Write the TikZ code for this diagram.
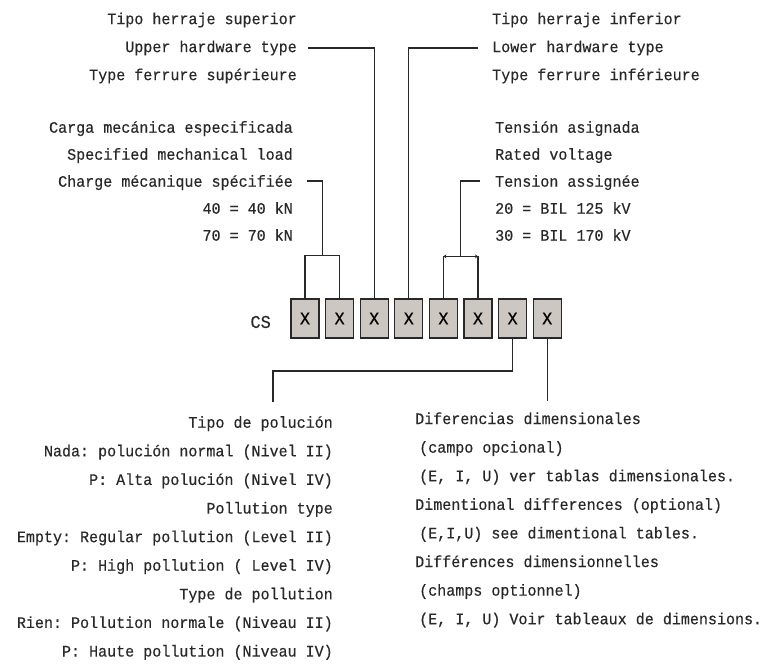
\documentclass[tikz,border=0pt]{standalone}
\usepackage{fontspec}
\setmonofont[FakeStretch=0.94,FakeBold=0.4]{Liberation Mono}
\usetikzlibrary{arrows.meta,calc}
\definecolor{boxgray}{RGB}{205,199,194}
\definecolor{inkgray}{RGB}{40,40,40}

\begin{document}
\begin{tikzpicture}[x=1pt,y=-1pt,
    lbl/.style={inner sep=0pt, text=inkgray, font=\ttfamily\fontsize{16}{28}\selectfont},
    xbox/.style={draw=inkgray, line width=1.2pt, fill=boxgray, minimum width=28pt,
        minimum height=39pt, inner sep=0pt, font=\ttfamily\fontsize{18}{18}\selectfont},
    wire/.style={draw=inkgray, line width=1.2pt}]
    \useasboundingbox (0,0) rectangle (763,666);

    % code boxes
    \node[lbl, anchor=east, font=\ttfamily\fontsize{18}{18}\selectfont] (cs) at (271,322) {CS};
    \foreach \i in {1,...,8}
        \node[xbox] (x\i) at ({305+(\i-1)*34.6},318.5) {X};

    % upper / lower hardware
    \node[lbl, anchor=east, align=right] (upper) at (297,48) {Tipo herraje superior\\Upper hardware type\\Type ferrure supérieure};
    \node[lbl, anchor=west, align=left] (lower) at (492,48) {Tipo herraje inferior\\Lower hardware type\\Type ferrure inférieure};
    \draw[wire] ([xshift=11pt]upper.east) -| (x3.north);
    \draw[wire] ([xshift=-14pt]lower.west) -| (x4.north);

    % mechanical load
    \node[lbl, anchor=east, align=right, font=\ttfamily\fontsize{16}{27}\selectfont] (load) at (293,181) {Carga mecánica especificada\\Specified mechanical load\\Charge mécanique spécifiée\\40 = 40 kN\\70 = 70 kN};
    \coordinate (lj) at ($(x1.north)!0.5!(x2.north)+(0,-43)$);
    \draw[wire] (x1.north) |- (lj) -| (x2.north);
    \draw[wire] ([xshift=14pt]load.east) -| (lj);

    % rated voltage
    \node[lbl, anchor=west, align=left, font=\ttfamily\fontsize{16}{27}\selectfont] (volt) at (495,181) {Tensión asignada\\Rated voltage\\Tension assignée\\20 = BIL 125 kV\\30 = BIL 170 kV};
    \coordinate (vj) at ($(x5.north)!0.5!(x6.north)+(0,-42)$);
    \draw[wire] (x5.north) -- (x5.north |- vj);
    \draw[wire] (x6.north) -- (x6.north |- vj);
    \draw[wire, {Stealth[length=3pt,width=4pt]}-{Stealth[length=3pt,width=4pt]}] (x5.north |- vj) -- (x6.north |- vj);
    \draw[wire] ([xshift=-15pt]volt.west) -| (vj);

    % pollution type
    \node[lbl, anchor=east, align=right, font=\ttfamily\fontsize{16}{28.6}\selectfont] (pollu) at (333,538) {Tipo de polución\\Nada: polución normal (Nivel II)\\P: Alta polución (Nivel IV)\\Pollution type\\Empty: Regular pollution (Level II)\\P: High pollution ( Level IV)\\Type de pollution\\Rien: Pollution normale (Niveau II)\\P: Haute pollution (Niveau IV)};
    \coordinate (pj) at (273,371);
    \draw[wire] (x7.south) |- (pj) -- ++(0,31);

    % dimensional differences
    \node[lbl, anchor=west, align=left, font=\ttfamily\fontsize{16}{28.6}\selectfont] (dims) at (415,520) {Diferencias dimensionales\\\hspace*{4pt}(campo opcional)\\\hspace*{4pt}(E, I, U) ver tablas dimensionales.\\Dimentional differences (optional)\\\hspace*{4pt}(E,I,U) see dimentional tables.\\Différences dimensionnelles\\\hspace*{4pt}(champs optionnel)\\\hspace*{4pt}(E, I, U) Voir tableaux de dimensions.};
    \draw[wire] (x8.south) -- ++(0,62);

\end{tikzpicture}
\end{document}
